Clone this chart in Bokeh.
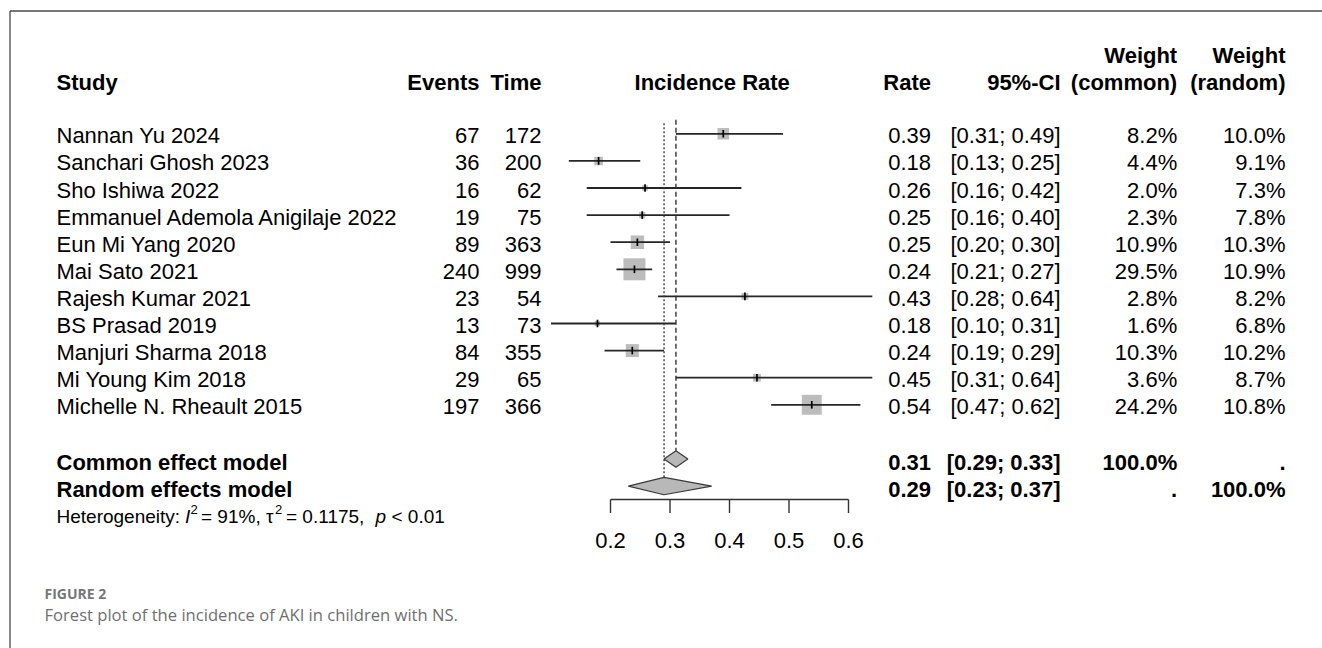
import numpy as np
from bokeh.plotting import figure
from bokeh.models import Range1d
from bokeh.core.properties import value
from bokeh.embed import file_html
from bokeh.resources import INLINE

# ---------------- data ----------------
STUDIES = ["Nannan Yu 2024", "Sanchari Ghosh 2023", "Sho Ishiwa 2022",
           "Emmanuel Ademola Anigilaje 2022", "Eun Mi Yang 2020", "Mai Sato 2021",
           "Rajesh Kumar 2021", "BS Prasad 2019", "Manjuri Sharma 2018",
           "Mi Young Kim 2018", "Michelle N. Rheault 2015"]
EVENTS = [67, 36, 16, 19, 89, 240, 23, 13, 84, 29, 197]
TIME = [172, 200, 62, 75, 363, 999, 54, 73, 355, 65, 366]
RATE = [0.39, 0.18, 0.26, 0.25, 0.25, 0.24, 0.43, 0.18, 0.24, 0.45, 0.54]
LOWER = [0.31, 0.13, 0.16, 0.16, 0.20, 0.21, 0.28, 0.10, 0.19, 0.31, 0.47]
UPPER = [0.49, 0.25, 0.42, 0.40, 0.30, 0.27, 0.64, 0.31, 0.29, 0.64, 0.62]
W_COMMON = [8.2, 4.4, 2.0, 2.3, 10.9, 29.5, 2.8, 1.6, 10.3, 3.6, 24.2]
W_RANDOM = [10.0, 9.1, 7.3, 7.8, 10.3, 10.9, 8.2, 6.8, 10.2, 8.7, 10.8]

SUMMARY_LABELS = ["Common effect model", "Random effects model"]
SUMMARY_RATE = [0.31, 0.29]
SUMMARY_LOWER = [0.29, 0.23]
SUMMARY_UPPER = [0.33, 0.37]
SUMMARY_W_COMMON = ["100.0%", "."]
SUMMARY_W_RANDOM = [".", "100.0%"]

TICKS = [0.2, 0.3, 0.4, 0.5, 0.6]

CAPTION_LABEL = "FIGURE 2"
CAPTION_TEXT = "Forest plot of the incidence of AKI in children with NS."

# ---------------- layout constants ----------------
W, H = 1322, 648
ROW_PX = 27.1
ROW0 = 133.3          # page y of first study row
PX_PER_UNIT = 595.0   # pixels per 1.0 of rate
X02 = 610.0           # page x of rate 0.2

FONT = value("Liberation Sans")
FS = "22px"
OFF = 2.0 / ROW_PX    # visual text centre offset (rows)

x0 = 0.2 - X02 / PX_PER_UNIT
x1 = x0 + W / PX_PER_UNIT
y_bottom = (H - ROW0) / ROW_PX
y_top = (0 - ROW0) / ROW_PX

p = figure(width=W, height=H, x_range=Range1d(x0, x1), y_range=Range1d(y_bottom, y_top),
           output_backend="svg", toolbar_location=None, min_border=0,
           x_axis_location=None, y_axis_location=None)
p.grid.visible = False
p.outline_line_color = None
p.background_fill_color = "white"
p.border_fill_color = "white"
p.extra_x_ranges = {"px": Range1d(0, W)}
p.extra_y_ranges = {"py": Range1d(H, 0)}

n = len(STUDIES)
rows = np.arange(n, dtype=float)
point = np.array(EVENTS) / np.array(TIME)
sizes = 4.05 * np.sqrt(np.array(W_COMMON))
sum_rows = np.array([n + 1, n + 2], dtype=float)
het_row = n + 3

# frame line (page border)
p.segment(x0=[9.5, 9.5], y0=[10.5, 10.5], x1=[9.5, W], y1=[H, 10.5],
          x_range_name="px", y_range_name="py", line_color="#4a4a4a", line_width=1.3)

# squares
p.scatter(x=point, y=rows, size=sizes, marker="square", fill_color="#bcbcbc",
          line_color=None)
# CI lines
p.segment(x0=LOWER, y0=rows, x1=UPPER, y1=rows, line_color="#262626", line_width=1.8)
# point ticks
p.segment(x0=point, y0=rows - 0.14, x1=point, y1=rows + 0.14, line_color="black",
          line_width=1.7)

# reference lines
p.segment(x0=[SUMMARY_RATE[0]], y0=[-0.52], x1=[SUMMARY_RATE[0]], y1=[sum_rows[0] - 0.3],
          line_color="#333333", line_width=1.4, line_dash="5 3")
p.segment(x0=[SUMMARY_RATE[1]], y0=[-0.39], x1=[SUMMARY_RATE[1]], y1=[sum_rows[1] - 0.32],
          line_color="#333333", line_width=1.3, line_dash="2 2")

# diamonds
hh = [0.30, 0.32]
xs = [[SUMMARY_LOWER[i], SUMMARY_RATE[i], SUMMARY_UPPER[i], SUMMARY_RATE[i]] for i in range(2)]
ys = [[sum_rows[i], sum_rows[i] - hh[i], sum_rows[i], sum_rows[i] + hh[i]] for i in range(2)]
p.patches(xs=xs, ys=ys, fill_color="#b8b8b8", line_color="#3a3a3a", line_width=1.2)

# axis
p.segment(x0=[TICKS[0]], y0=[499], x1=[TICKS[-1]], y1=[499], y_range_name="py",
          line_color="#333333", line_width=1.4)
p.segment(x0=TICKS, y0=[499] * len(TICKS), x1=TICKS, y1=[512.5] * len(TICKS),
          y_range_name="py", line_color="#333333", line_width=1.4)
p.text(x=TICKS, y=[540] * len(TICKS), text=[f"{t:.1f}" for t in TICKS], y_range_name="py",
       text_font=FONT, text_font_size=FS, text_align="center", text_baseline="alphabetic",
       text_color="black")


def col(xpos, ys_, texts, align="right", bold=False, size=FS, font=FONT, color="black",
        italic=False, yname="default"):
    style = "bold" if bold else ("italic" if italic else "normal")
    kw = dict(x=[xpos] * len(texts), y=list(ys_), text=list(texts), x_range_name="px",
              text_font=font, text_font_size=size, text_align=align,
              text_baseline="alphabetic", text_font_style=style, text_color=color)
    if yname != "default":
        kw["y_range_name"] = yname
    p.text(**kw)


# headers
hr2 = [-2 + OFF + 0.5 / ROW_PX]
hr1 = [-3 + OFF + 1.0 / ROW_PX]
col(56, hr2, ["Study"], align="left", bold=True)
col(479, hr2, ["Events"], bold=True)
col(541, hr2, ["Time"], bold=True)
col(711.7, hr2, ["Incidence Rate"], align="center", bold=True)
col(930.5, hr2, ["Rate"], bold=True)
col(1060, hr2, ["95%-CI"], bold=True)
col(1176.7, hr1, ["Weight"], bold=True)
col(1176.7, hr2, ["(common)"], bold=True)
col(1285, hr1, ["Weight"], bold=True)
col(1285, hr2, ["(random)"], bold=True)

# study rows
ty = rows + OFF
col(56, ty, STUDIES, align="left")
col(479, ty, [str(e) for e in EVENTS])
col(541, ty, [str(t) for t in TIME])
col(930.5, ty, [f"{r:.2f}" for r in RATE])
col(1060, ty, [f"[{l:.2f}; {u:.2f}]" for l, u in zip(LOWER, UPPER)])
col(1176.7, ty, [f"{w:.1f}%" for w in W_COMMON])
col(1285, ty, [f"{w:.1f}%" for w in W_RANDOM])

# summary rows
sy = sum_rows + 3.0 / ROW_PX
col(56, sy, SUMMARY_LABELS, align="left", bold=True)
col(930.5, sy, [f"{r:.2f}" for r in SUMMARY_RATE], bold=True)
col(1060, sy, [f"[{l:.2f}; {u:.2f}]" for l, u in zip(SUMMARY_LOWER, SUMMARY_UPPER)], bold=True)
col(1176.7, sy, SUMMARY_W_COMMON, bold=True)
col(1285, sy, SUMMARY_W_RANDOM, bold=True)

# heterogeneity
hy = [het_row + 2.8 / ROW_PX]
hsup = [het_row - 3.5 / ROW_PX]
HFS = "19px"
SFS = "13px"
col(56, hy, ["Heterogeneity: "], align="left", size=HFS)
col(184.5, hy, ["I"], align="left", size=HFS, italic=True)
col(190.0, hsup, ["2"], align="left", size=SFS)
col(200.5, hy, ["= 91%,"], align="left", size=HFS)
col(265.5, hy, ["\u03c4"], align="left", size=HFS)
col(274.5, hsup, ["2"], align="left", size=SFS)
col(285.5, hy, ["= 0.1175,"], align="left", size=HFS)
col(375.0, hy, ["p"], align="left", size=HFS, italic=True)
col(391.0, hy, ["< 0.01"], align="left", size=HFS)

# caption
col(44, [593], [CAPTION_LABEL], align="left", bold=True, size="14px",
    font=value("Open Sans"), color="#777777", yname="py")
col(44, [614], [CAPTION_TEXT], align="left", size="16.6px",
    font=value("Open Sans"), color="#6f6f6f", yname="py")

open("out.html", "w").write(file_html(p, INLINE))
